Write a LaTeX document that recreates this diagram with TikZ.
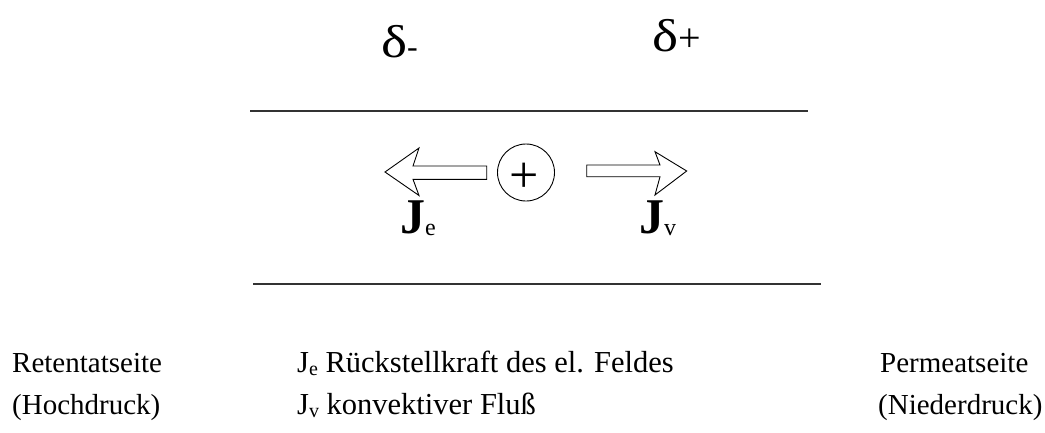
\documentclass[tikz,border=0pt]{standalone}
\usepackage{graphicx}
\usepackage{fontspec}
\setmainfont{Liberation Serif}
\newcommand{\fs}[1]{\fontsize{#1}{#1}\selectfont}
\newcommand{\wide}[1]{\scalebox{1.2}[1]{#1}}
\begin{document}
\begin{tikzpicture}[x=1pt,y=-1pt,
  lbl/.style={inner sep=0pt,anchor=base west,font=\fs{29}},
  midlbl/.style={inner sep=0pt,anchor=base west,font=\fs{30.5}},
  jl/.style={inner sep=0pt,anchor=base west,font=\fs{50}\bfseries},
  dl/.style={inner sep=0pt,anchor=base west,font=\fs{46}},
  membrane/.style={line width=1.2pt,black!80},
  blockarrow/.style={line width=0.9pt,fill=white,line join=miter}]
\useasboundingbox[fill=white] (0,0) rectangle (1045,432);
% delta labels
\node[dl] (dm) at (381,57) {\wide{δ}{\fs{32}-}};
\node[dl] (dp) at (652,51) {\wide{δ}{\fs{40}+}};
% membrane lines
\coordinate (t1) at (250,111); \coordinate (t2) at (808,111);
\coordinate (b1) at (253,284); \coordinate (b2) at (821,284);
\draw[membrane] (t1) -- (t2);
\draw[membrane] (b1) -- (b2);
% ion
\node[circle,draw,line width=0.9pt,minimum size=57pt,inner sep=0pt] (ion) at (526,172.5) {};
\node[inner sep=0pt,anchor=base,font=\fs{52}] (plus) at (524.5,192) {+};
% arrows
\draw[blockarrow] (486.7,166) -- (413,166) -- (419,148) -- (385,172) -- (419,195.5) -- (413,179.3) -- (486.7,179.3) -- cycle;
\draw[blockarrow] (586.7,165) -- (660,165) -- (655,151.7) -- (686.7,171) -- (655,195) -- (660,176.7) -- (586.7,176.7) -- cycle;
% J labels
\node[jl] (je) at (400,233) {J\raisebox{-2pt}{\fs{24}\mdseries e}};
\node[jl] (jv) at (639,233) {J\raisebox{-2pt}{\fs{24}\mdseries v}};
% bottom text
\node[lbl] (ret) at (12,372) {Retentatseite};
\node[lbl] (hoch) at (12,414) {(Hochdruck)};
\node[midlbl] (jer) at (297,372) {J\raisebox{-3pt}{\fs{20}e} Rückstellkraft des el. Feldes};
\node[midlbl] (jvk) at (297,414) {J\raisebox{-3pt}{\fs{20}v} konvektiver Fluß};
\node[lbl] (perm) at (880,372) {Permeatseite};
\node[lbl] (nied) at (878,414) {(Niederdruck)};
\end{tikzpicture}
\end{document}
